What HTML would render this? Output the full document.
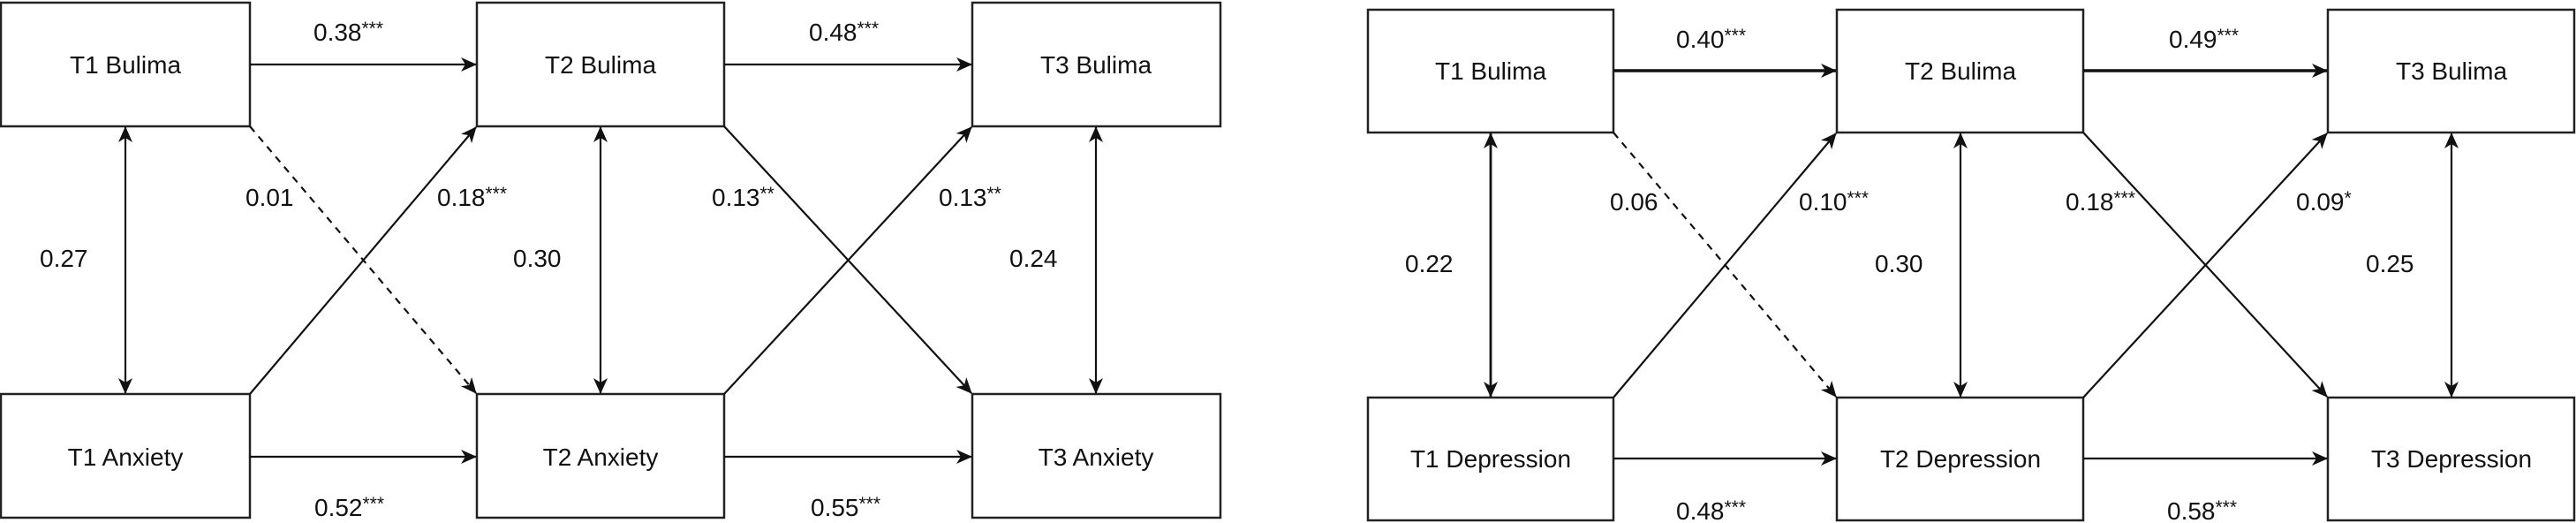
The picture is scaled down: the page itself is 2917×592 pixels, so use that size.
<!DOCTYPE html>
<html><head><meta charset="utf-8"><style>
html,body{margin:0;padding:0;background:#fff;}
svg{display:block;}
text{font-family:"Liberation Sans",Arial,sans-serif;font-size:28px;fill:#111;}
.s{font-size:21px;}
</style></head><body>
<svg width="2917" height="592" viewBox="0 0 2917 592" xmlns="http://www.w3.org/2000/svg">
<defs>
<marker id="a" viewBox="0 0 18 16" refX="17" refY="8" markerWidth="18" markerHeight="16" markerUnits="userSpaceOnUse" orient="auto-start-reverse">
<path d="M0,0 L18,8 L0,16 L5,8 Z" fill="#111"/>
</marker>
</defs>
<g fill="#fff" stroke="#222" stroke-width="2.5">
<rect x="1" y="3" width="282" height="140"/>
<rect x="540" y="3" width="280" height="140"/>
<rect x="1101" y="3" width="281" height="140"/>
<rect x="1" y="446" width="282" height="140"/>
<rect x="540" y="446" width="280" height="140"/>
<rect x="1101" y="446" width="281" height="140"/>
<rect x="1549" y="11" width="278" height="139"/>
<rect x="2080" y="11" width="279" height="139"/>
<rect x="2636" y="11" width="279" height="139"/>
<rect x="1549" y="450" width="278" height="139"/>
<rect x="2080" y="450" width="279" height="139"/>
<rect x="2636" y="450" width="279" height="139"/>
</g>
<g stroke="#111" stroke-width="2.2" fill="none">
<line x1="283" y1="73" x2="539" y2="73" marker-end="url(#a)"/>
<line x1="820" y1="73" x2="1100" y2="73" marker-end="url(#a)"/>
<line x1="283" y1="517" x2="539" y2="517" marker-end="url(#a)"/>
<line x1="820" y1="517" x2="1100" y2="517" marker-end="url(#a)"/>
<line x1="142" y1="144" x2="142" y2="445" marker-start="url(#a)" marker-end="url(#a)"/>
<line x1="680" y1="144" x2="680" y2="445" marker-start="url(#a)" marker-end="url(#a)"/>
<line x1="1241" y1="144" x2="1241" y2="445" marker-start="url(#a)" marker-end="url(#a)"/>
<line x1="283" y1="446" x2="539" y2="144" marker-end="url(#a)"/>
<line x1="820" y1="446" x2="1100" y2="144" marker-end="url(#a)"/>
<line x1="283" y1="143" x2="539" y2="445" stroke-dasharray="8,7" marker-end="url(#a)"/>
<line x1="820" y1="143" x2="1100" y2="445" marker-end="url(#a)"/>

<line x1="1827" y1="80" x2="2079" y2="80" stroke-width="3.5" marker-end="url(#a)"/>
<line x1="2359" y1="80" x2="2635" y2="80" stroke-width="3.5" marker-end="url(#a)"/>
<line x1="1827" y1="519" x2="2079" y2="519" marker-end="url(#a)"/>
<line x1="2359" y1="519" x2="2635" y2="519" marker-end="url(#a)"/>
<line x1="1688" y1="151" x2="1688" y2="449" stroke-width="2.8" marker-start="url(#a)" marker-end="url(#a)"/>
<line x1="2220" y1="151" x2="2220" y2="449" marker-start="url(#a)" marker-end="url(#a)"/>
<line x1="2776" y1="151" x2="2776" y2="449" marker-start="url(#a)" marker-end="url(#a)"/>
<line x1="1827" y1="450" x2="2079" y2="151" marker-end="url(#a)"/>
<line x1="2359" y1="450" x2="2635" y2="151" marker-end="url(#a)"/>
<line x1="1827" y1="150" x2="2079" y2="449" stroke-dasharray="8,7" marker-end="url(#a)"/>
<line x1="2359" y1="150" x2="2635" y2="449" marker-end="url(#a)"/>
</g>
<g text-anchor="middle">
<text x="142" y="83">T1 Bulima</text>
<text x="680" y="83">T2 Bulima</text>
<text x="1241" y="83">T3 Bulima</text>
<text x="142" y="527">T1 Anxiety</text>
<text x="680" y="527">T2 Anxiety</text>
<text x="1241" y="527">T3 Anxiety</text>
<text x="1688" y="90">T1 Bulima</text>
<text x="2220" y="90">T2 Bulima</text>
<text x="2776" y="90">T3 Bulima</text>
<text x="1688" y="529">T1 Depression</text>
<text x="2220" y="529">T2 Depression</text>
<text x="2776" y="529">T3 Depression</text>
</g>
<g>
<text x="355" y="46">0.38<tspan class="s" dy="-7">***</tspan></text>
<text x="916" y="46">0.48<tspan class="s" dy="-7">***</tspan></text>
<text x="356" y="584">0.52<tspan class="s" dy="-7">***</tspan></text>
<text x="918" y="584">0.55<tspan class="s" dy="-7">***</tspan></text>
<text x="278" y="233">0.01</text>
<text x="495" y="233">0.18<tspan class="s" dy="-7">***</tspan></text>
<text x="806" y="233">0.13<tspan class="s" dy="-7">**</tspan></text>
<text x="1063" y="233">0.13<tspan class="s" dy="-7">**</tspan></text>
<text x="45" y="302">0.27</text>
<text x="581" y="302">0.30</text>
<text x="1143" y="302">0.24</text>

<text x="1898" y="54">0.40<tspan class="s" dy="-7">***</tspan></text>
<text x="2456" y="54">0.49<tspan class="s" dy="-7">***</tspan></text>
<text x="1898" y="588">0.48<tspan class="s" dy="-7">***</tspan></text>
<text x="2454" y="588">0.58<tspan class="s" dy="-7">***</tspan></text>
<text x="1823" y="238">0.06</text>
<text x="2037" y="238">0.10<tspan class="s" dy="-7">***</tspan></text>
<text x="2339" y="238">0.18<tspan class="s" dy="-7">***</tspan></text>
<text x="2600" y="238">0.09<tspan class="s" dy="-7">*</tspan></text>
<text x="1591" y="308">0.22</text>
<text x="2123" y="308">0.30</text>
<text x="2679" y="308">0.25</text>
</g>
</svg>
</body></html>
